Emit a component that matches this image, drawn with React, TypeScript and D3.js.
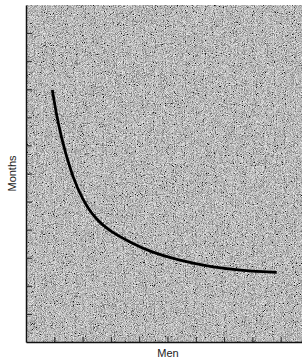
import React, { useRef, useEffect } from 'react';
import * as d3 from 'd3';

// curve (men vs months, arbitrary units)
const men = [0.93, 1.14, 1.38, 1.67, 1.97, 2.44, 3.03, 3.79, 4.38, 5.33, 6.5, 7.68, 8.86];
const months = [8.97, 7.73, 6.78, 5.83, 5.12, 4.38, 3.9, 3.5, 3.22, 2.92, 2.68, 2.54, 2.48];
const xTicks = [1, 2, 3, 4, 5, 6, 7, 8, 9];
const yTicks = [1, 2, 3, 4, 5, 6, 7, 8, 9, 10, 11];

const W = 302;
const H = 361;
const margin = { top: 5, right: 0, bottom: 19, left: 26 };

export default function App() {
  const svgRef = useRef<SVGSVGElement>(null);

  useEffect(() => {
    const svg = d3.select(svgRef.current);
    svg.selectAll('*').remove();

    const plotW = W - margin.left - margin.right;
    const plotH = H - margin.top - margin.bottom;

    const x = d3.scaleLinear().domain([0, plotW / 28.3]).range([margin.left, W - margin.right]);
    const y = d3.scaleLinear().domain([0, 12]).range([H - margin.bottom, margin.top]);

    // halftone-ish paper texture
    const defs = svg.append('defs');
    const f = defs.append('filter').attr('id', 'grain')
      .attr('x', 0).attr('y', 0).attr('width', '100%').attr('height', '100%');
    f.append('feTurbulence')
      .attr('type', 'fractalNoise')
      .attr('baseFrequency', 1.1)
      .attr('numOctaves', 2)
      .attr('seed', 3)
      .attr('result', 'n');
    f.append('feColorMatrix')
      .attr('in', 'n')
      .attr('type', 'matrix')
      .attr('values', '0.33 0.33 0.33 0 0  0.33 0.33 0.33 0 0  0.33 0.33 0.33 0 0  0 0 0 0 1')
      .attr('result', 'g');
    const ct = f.append('feComponentTransfer').attr('in', 'g');
    ['feFuncR', 'feFuncG', 'feFuncB'].forEach((fn) =>
      ct.append(fn).attr('type', 'linear').attr('slope', 3).attr('intercept', -0.95)
    );

    svg.append('rect')
      .attr('x', margin.left)
      .attr('y', margin.top)
      .attr('width', plotW)
      .attr('height', plotH)
      .attr('fill', '#8a8a8a');
    svg.append('rect')
      .attr('x', margin.left)
      .attr('y', margin.top)
      .attr('width', plotW)
      .attr('height', plotH)
      .attr('filter', 'url(#grain)')
      .attr('opacity', 0.85);

    // axes, ticks pointing inward
    const xAxis = d3.axisBottom(x).tickValues(xTicks).tickFormat(() => '')
      .tickSizeInner(-5).tickSizeOuter(0);
    const gx = svg.append('g')
      .attr('transform', `translate(0,${H - margin.bottom})`)
      .call(xAxis);
    gx.select('.domain').attr('stroke', '#111').attr('stroke-width', 1.5);
    gx.selectAll('.tick line').attr('stroke', '#222');

    const yAxis = d3.axisLeft(y).tickValues(yTicks).tickFormat(() => '')
      .tickSizeInner(-6).tickSizeOuter(0);
    const gy = svg.append('g')
      .attr('transform', `translate(${margin.left},0)`)
      .call(yAxis);
    gy.select('.domain').attr('stroke', '#111').attr('stroke-width', 1.5);
    gy.selectAll('.tick line').attr('stroke', '#222');

    const pts: [number, number][] = men.map((m, i) => [m, months[i]]);
    const curve = d3.line<[number, number]>()
      .x((d) => x(d[0]))
      .y((d) => y(d[1]))
      .curve(d3.curveBasis);

    svg.append('path')
      .datum(pts)
      .attr('d', curve)
      .attr('fill', 'none')
      .attr('stroke', '#000')
      .attr('stroke-width', 2.8)
      .attr('stroke-linecap', 'butt');

    svg.append('text')
      .attr('transform', `translate(16,${(margin.top + H - margin.bottom) / 2}) rotate(-90)`)
      .attr('text-anchor', 'middle')
      .style('font-family', 'Liberation Sans, Arial, sans-serif')
      .style('font-size', '11px')
      .attr('fill', '#222')
      .text('Months');

    svg.append('text')
      .attr('x', 168)
      .attr('y', H - 4)
      .attr('text-anchor', 'middle')
      .style('font-family', 'Liberation Sans, Arial, sans-serif')
      .style('font-size', '11px')
      .attr('fill', '#222')
      .text('Men');
  }, []);

  return (
    <svg
      ref={svgRef}
      width={W}
      height={H}
      style={{ position: 'absolute', left: 0, top: 0, background: '#fff' }}
    />
  );
}
